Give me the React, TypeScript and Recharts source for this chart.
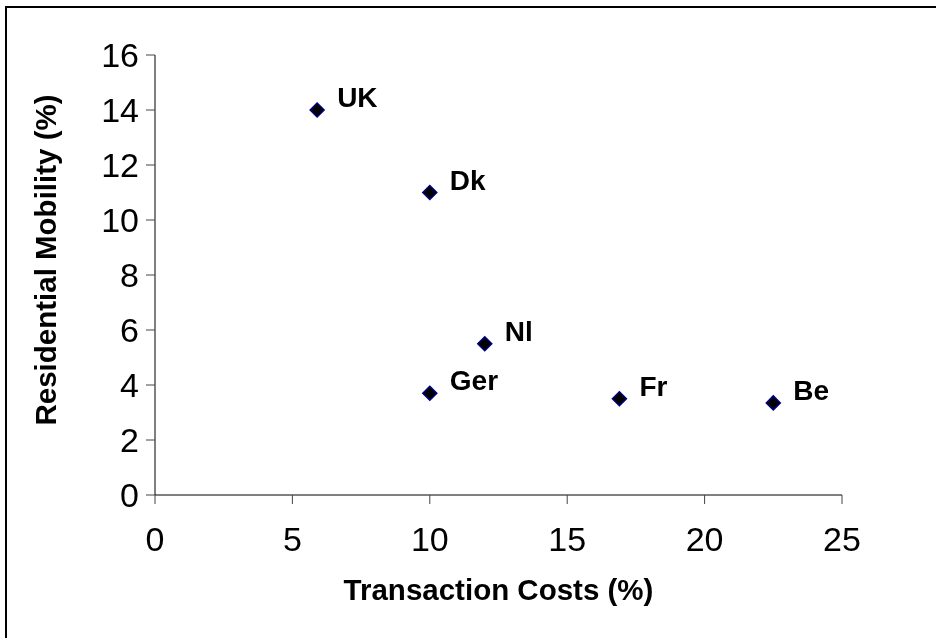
import React from "react";
import { ScatterChart, Scatter, XAxis, YAxis, Label } from "recharts";

const countries = ["UK", "Dk", "Nl", "Ger", "Fr", "Be"];
const transactionCosts = [5.9, 10.0, 12.0, 10.0, 16.9, 22.5];
const residentialMobility = [14.0, 11.0, 5.5, 3.7, 3.5, 3.35];
const xTicks = [0, 5, 10, 15, 20, 25];
const yTicks = [0, 2, 4, 6, 8, 10, 12, 14, 16];

const data = countries.map((name, i) => ({
  name,
  x: transactionCosts[i],
  y: residentialMobility[i],
}));

const FONT = "'Liberation Sans', Arial, sans-serif";

const DiamondWithLabel = (props: any) => {
  const { cx, cy, payload } = props;
  const r = 7;
  return (
    <g>
      <polygon
        points={`${cx},${cy - r} ${cx + r},${cy} ${cx},${cy + r} ${cx - r},${cy}`}
        fill="#000"
        stroke="#000080"
        strokeWidth={1.5}
      />
      <text
        x={cx + 20}
        y={cy - 3}
        fontFamily={FONT}
        fontSize={28}
        fontWeight="bold"
        fill="#000"
      >
        {payload.name}
      </text>
    </g>
  );
};

export default function App() {
  return (
    <div style={{ position: "relative", width: 920, height: 622, background: "#fff" }}>
      <div
        style={{
          position: "fixed",
          left: 5,
          top: 6,
          width: 960,
          height: 660,
          border: "2px solid #000",
          boxSizing: "border-box",
          pointerEvents: "none",
        }}
      />
      <ScatterChart
        width={920}
        height={622}
        margin={{ top: 47, right: 86, bottom: 75, left: 0 }}
      >
        <XAxis
          type="number"
          dataKey="x"
          domain={[0, 25]}
          ticks={xTicks}
          interval={0}
          height={60}
          axisLine={{ stroke: "#000" }}
          tickLine={{ stroke: "#444" }}
          tickSize={9}
          tickMargin={23}
          tick={{ fill: "#000", fontSize: 34, fontFamily: FONT }}
        >
          <Label
            content={(p: any) => {
              const vb = p.viewBox;
              return (
                <text
                  x={vb.x + vb.width / 2}
                  y={vb.y + 105}
                  textAnchor="middle"
                  fontFamily={FONT}
                  fontSize={29.5}
                  fontWeight="bold"
                  fill="#000"
                >
                  Transaction Costs (%)
                </text>
              );
            }}
          />
        </XAxis>
        <YAxis
          type="number"
          dataKey="y"
          domain={[0, 16]}
          ticks={yTicks}
          interval={0}
          width={147}
          axisLine={{ stroke: "#000" }}
          tickLine={{ stroke: "#444" }}
          tickSize={9}
          tickMargin={7}
          tick={{ fill: "#000", fontSize: 34, fontFamily: FONT }}
        >
          <Label
            content={(p: any) => {
              const vb = p.viewBox;
              const cx = vb.x + 37;
              const cy = vb.y + vb.height / 2 - 15;
              return (
                <text
                  x={cx}
                  y={cy}
                  textAnchor="middle"
                  dominantBaseline="central"
                  transform={`rotate(-90, ${cx}, ${cy})`}
                  fontFamily={FONT}
                  fontSize={29.5}
                  fontWeight="bold"
                  fill="#000"
                >
                  Residential Mobility (%)
                </text>
              );
            }}
          />
        </YAxis>
        <Scatter data={data} shape={DiamondWithLabel} isAnimationActive={false} />
      </ScatterChart>
    </div>
  );
}
